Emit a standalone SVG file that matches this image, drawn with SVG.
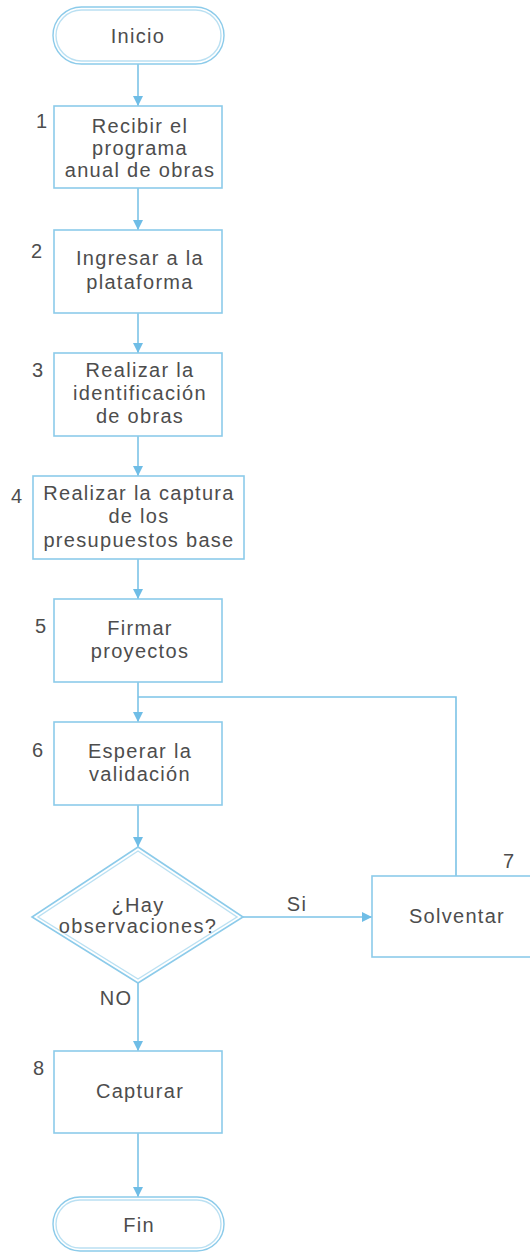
<svg xmlns="http://www.w3.org/2000/svg" width="530" height="1253" viewBox="0 0 530 1253">
<defs>
<marker id="ah" markerWidth="10" markerHeight="10" viewBox="0 0 10 10" refX="10" refY="5" orient="auto" markerUnits="userSpaceOnUse">
<path d="M0,0 L10,5 L0,10 Z" fill="#6fbde6"/>
</marker>
<style>
.shape{fill:#ffffff;stroke:#8ccbea;stroke-width:1.6}
.term{fill:#ffffff;stroke:#8ccbea;stroke-width:1.4}
.edge{fill:none;stroke:#7cc3e7;stroke-width:1.6}
.t{font-family:"Liberation Sans",Arial,sans-serif;font-size:20px;fill:#4d4d4d;letter-spacing:1.3px;text-anchor:middle}
.n{font-family:"Liberation Sans",Arial,sans-serif;font-size:20px;fill:#4d4d4d}
</style>
</defs>
<rect width="530" height="1253" fill="#ffffff"/>
<g id="connectors">
<line class="edge" x1="138" y1="64" x2="138" y2="106" marker-end="url(#ah)"/>
<line class="edge" x1="138" y1="188" x2="138" y2="230" marker-end="url(#ah)"/>
<line class="edge" x1="138" y1="313" x2="138" y2="353" marker-end="url(#ah)"/>
<line class="edge" x1="138" y1="436" x2="138" y2="476" marker-end="url(#ah)"/>
<line class="edge" x1="138" y1="559" x2="138" y2="599" marker-end="url(#ah)"/>
<line class="edge" x1="138" y1="682" x2="138" y2="722" marker-end="url(#ah)"/>
<polyline class="edge" points="456,876 456,697 138,697"/>
<line class="edge" x1="138" y1="805" x2="138" y2="847" marker-end="url(#ah)"/>
<line class="edge" x1="243" y1="917" x2="372" y2="917" marker-end="url(#ah)"/>
<line class="edge" x1="138" y1="983" x2="138" y2="1051" marker-end="url(#ah)"/>
<line class="edge" x1="138" y1="1133" x2="138" y2="1197" marker-end="url(#ah)"/>
<text class="t" x="297" y="911">Si</text>
<text class="t" x="116" y="1005">NO</text>
</g>
<g id="inicio">
<rect class="term" x="53" y="7" width="171" height="57" rx="28.5"/>
<rect class="term" x="56" y="10" width="165" height="51" rx="25.5" stroke-opacity="0.6"/>
<text class="t" x="138" y="43">Inicio</text>
</g>
<g id="n1">
<rect class="shape" x="54" y="106" width="168" height="82"/>
<text class="n" x="36" y="128">1</text>
<text class="t" x="140" y="133">Recibir el</text>
<text class="t" x="140" y="155">programa</text>
<text class="t" x="140" y="177">anual de obras</text>
</g>
<g id="n2">
<rect class="shape" x="54" y="230" width="168" height="83"/>
<text class="n" x="31" y="258">2</text>
<text class="t" x="140" y="265">Ingresar a la</text>
<text class="t" x="140" y="289">plataforma</text>
</g>
<g id="n3">
<rect class="shape" x="54" y="353" width="168" height="83"/>
<text class="n" x="32" y="377">3</text>
<text class="t" x="140" y="377">Realizar la</text>
<text class="t" x="140" y="400">identificación</text>
<text class="t" x="140" y="423">de obras</text>
</g>
<g id="n4">
<rect class="shape" x="33" y="476" width="211" height="83"/>
<text class="n" x="11" y="503">4</text>
<text class="t" x="139" y="500">Realizar la captura</text>
<text class="t" x="139" y="523">de los</text>
<text class="t" x="139" y="547">presupuestos base</text>
</g>
<g id="n5">
<rect class="shape" x="54" y="599" width="168" height="83"/>
<text class="n" x="35" y="633">5</text>
<text class="t" x="140" y="635">Firmar</text>
<text class="t" x="140" y="658">proyectos</text>
</g>
<g id="n6">
<rect class="shape" x="54" y="722" width="168" height="83"/>
<text class="n" x="32" y="757">6</text>
<text class="t" x="140" y="758">Esperar la</text>
<text class="t" x="140" y="781">validación</text>
</g>
<g id="decision">
<polygon class="shape" points="138,847 243,917 138,983 32,917"/>
<polygon class="term" points="138,851 237,917 138,979 38,917" stroke-opacity="0.6"/>
<text class="t" x="138" y="912">¿Hay</text>
<text class="t" x="138" y="933">observaciones?</text>
</g>
<g id="n7">
<rect class="shape" x="372" y="876" width="162" height="81"/>
<text class="n" x="503" y="868">7</text>
<text class="t" x="457" y="923">Solventar</text>
</g>
<g id="n8">
<rect class="shape" x="54" y="1051" width="168" height="82"/>
<text class="n" x="33" y="1075">8</text>
<text class="t" x="140" y="1098">Capturar</text>
</g>
<g id="fin">
<rect class="term" x="53" y="1197" width="171" height="54" rx="27"/>
<rect class="term" x="56" y="1200" width="165" height="48" rx="24" stroke-opacity="0.6"/>
<text class="t" x="139" y="1232">Fin</text>
</g>
</svg>
